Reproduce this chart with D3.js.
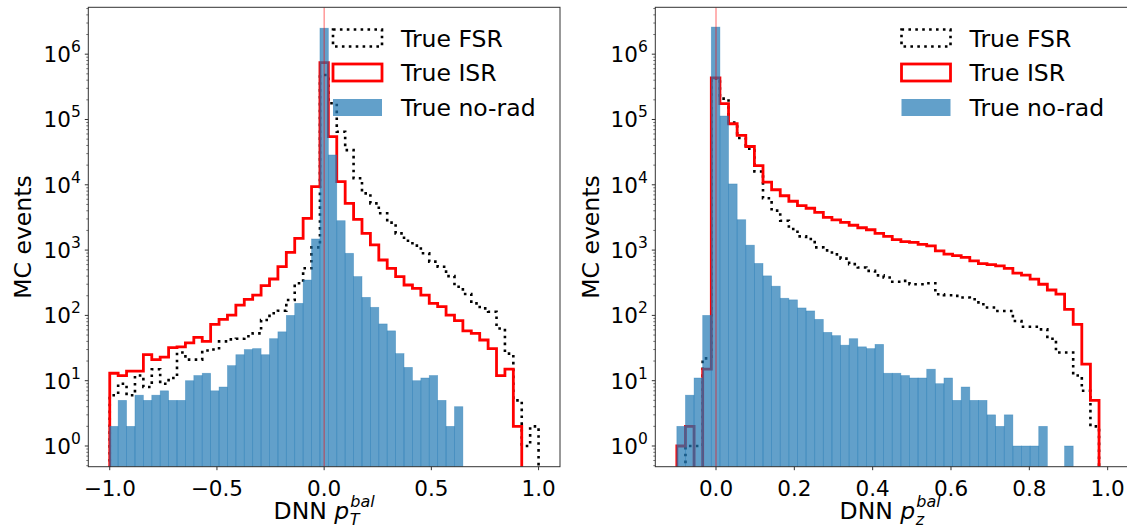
<!DOCTYPE html>
<html><head><meta charset="utf-8">
<script src="https://cdn.jsdelivr.net/npm/d3@7/dist/d3.min.js"></script>
<style>
body{margin:0;background:#fff}
svg{display:block}
text{font-family:"DejaVu Sans",sans-serif;fill:#000}
</style>
</head><body>
<svg id="c" width="1127" height="529"></svg>
<script>
// ---------- DATA ----------
// Left panel: 51 bins over [-1, 1]
const leftBinStart = -1, leftBinWidth = 2 / 51;
const leftNoRad = [2,5,2,6,5,6,7,5,5,10, 12,13,7,8,17,25,30,31,25,44, 56,100,153,348,1480,2500000,28600,2820,893,393,
  189,133,74,58,26,16,10,11,12,5, 2,4,0,0,0,0,0,0,0,0, 0];
const leftISR = [13,12,14,14,25,21,23,32,33,38, 46,40,73,87,101,144,176,205,285,361, 557,925,1515,3070,9350,741000,54500,11200,5200,2960,
  1800,1200,705,526,393,292,260,205,153,136, 101,83,58,53,42,31,12,15,2,0, 0];
const leftFSR = [6,9,6,12,8,15,9,11,27,21, 21,29,30,40,43,44,48,53,85,108, 118,172,310,526,1100,480000,177000,65000,34000,12600,
  7400,5200,3660,2630,1800,1390,1170,893,665,557, 400,275,213,153,128,114,63,26,5,1, 2];

// Right panel: 50 bins over [-0.1, 1.0]
const rightBinStart = -0.1, rightBinWidth = 0.022;
const rightNoRad = [2,6,11,100,2600000,113000,10300,2920,1190,625, 403,280,183,173,130,117,87,55,49,35,
  44,33,31,36,13,13,12,11,11,15, 9,11,5,8,5,5,3,2,3,1, 1,1,2,0,0,1,0,0,0,0];
const rightISR = [1,2,0,15,434000,175000,86000,57000,38600,19700, 11000,8400,6800,5600,4800,4370,3790,3180,2900,2660,
  2400,2200,2050,1800,1620,1450,1350,1310,1220,1160, 975,870,820,773,686,620,600,575,524,443,
  413,359,300,245,211,124,73,18,5,0];
const rightFSR = [0,1,1,22,424000,209000,90000,52000,35600,16000, 6230,4020,2820,2100,1620,1475,1100,990,860,740,
  610,540,480,410,380,327,338,300,300,310, 211,204,199,188,177,148,132,117,117,82,
  67,67,61,44,27,27,12,7,2,0];

const leftXTicks = [-1.0, -0.5, 0.0, 0.5, 1.0];
const leftXTickLabels = ["\u22121.0", "\u22120.5", "0.0", "0.5", "1.0"];
const rightXTicks = [0.0, 0.2, 0.4, 0.6, 0.8, 1.0];
const rightXTickLabels = ["0.0", "0.2", "0.4", "0.6", "0.8", "1.0"];
const yDecades = [0, 1, 2, 3, 4, 5, 6];
const legendLabels = ["True FSR", "True ISR", "True no-rad"];
const yLabelText = "MC events";
const xLabelSubs = ["T", "z"];

// ---------- DRAW ----------
const svg = d3.select("#c");
const TOP = 7.3, BOT = 466.7;
const yDomain = [Math.pow(10, -0.317), Math.pow(10, 6.718)];
const BLUE = "#1f77b4";

const panels = [
  {id: "L", x0: 88.3, x1: 560, dom: [-1.1, 1.1], bs: leftBinStart, bw: leftBinWidth,
   noRad: leftNoRad, isr: leftISR, fsr: leftFSR, ticks: leftXTicks, tickLabels: leftXTickLabels,
   legX: 333, sub: xLabelSubs[0], ylabX: 23},
  {id: "R", x0: 655.3, x1: 1129.2, dom: [-0.155, 1.055], bs: rightBinStart, bw: rightBinWidth,
   noRad: rightNoRad, isr: rightISR, fsr: rightFSR, ticks: rightXTicks, tickLabels: rightXTickLabels,
   legX: 901.5, sub: xLabelSubs[1], ylabX: 591}
];

const defs = svg.append("defs");

panels.forEach(p => {
  const x = d3.scaleLinear().domain(p.dom).range([p.x0, p.x1]);
  const y = d3.scaleLog().domain(yDomain).range([BOT, TOP]);
  defs.append("clipPath").attr("id", "clip" + p.id)
    .append("rect").attr("x", p.x0).attr("y", TOP).attr("width", p.x1 - p.x0).attr("height", BOT - TOP);

  const g = svg.append("g");
  const plot = g.append("g").attr("clip-path", `url(#clip${p.id})`);

  const yv = v => v > 0 ? y(v) : BOT + 50;
  const stepPts = vals => {
    const pts = [[x(p.bs), BOT + 50]];
    vals.forEach((v, i) => {
      const a = p.bs + i * p.bw, b = a + p.bw;
      pts.push([x(a), yv(v)], [x(b), yv(v)]);
    });
    pts.push([x(p.bs + vals.length * p.bw), BOT + 50]);
    return pts;
  };
  const line = d3.line();

  // FSR (dotted black)
  plot.append("path").attr("d", line(stepPts(p.fsr)))
    .attr("fill", "none").attr("stroke", "#000").attr("stroke-width", 2.6)
    .attr("stroke-dasharray", "2.6,4.3").attr("stroke-linejoin", "miter");
  // ISR (red)
  plot.append("path").attr("d", line(stepPts(p.isr)))
    .attr("fill", "none").attr("stroke", "#ff0000").attr("stroke-width", 2.8)
    .attr("stroke-linejoin", "miter");
  // no-rad bars
  plot.append("g").selectAll("rect").data(p.noRad.map((v, i) => ({v, i})).filter(d => d.v > 0))
    .join("rect")
    .attr("x", d => x(p.bs + d.i * p.bw))
    .attr("width", d => x(p.bs + (d.i + 1) * p.bw) - x(p.bs + d.i * p.bw))
    .attr("y", d => y(d.v))
    .attr("height", d => BOT + 5 - y(d.v))
    .attr("fill", BLUE).attr("fill-opacity", 0.7)
    .attr("stroke", BLUE).attr("stroke-opacity", 0.45).attr("stroke-width", 0.7);
  // vertical line at 0
  plot.append("line").attr("x1", x(0)).attr("x2", x(0)).attr("y1", TOP).attr("y2", BOT)
    .attr("stroke", "#ff0000").attr("stroke-opacity", 0.55).attr("stroke-width", 1.1);

  // spines
  g.append("rect").attr("x", p.x0).attr("y", TOP).attr("width", p.x1 - p.x0).attr("height", BOT - TOP)
    .attr("fill", "none").attr("stroke", "#333").attr("stroke-width", 1);

  // x ticks
  p.ticks.forEach((t, i) => {
    const xx = x(t);
    g.append("line").attr("x1", xx).attr("x2", xx).attr("y1", BOT).attr("y2", BOT + 3.5)
      .attr("stroke", "#333").attr("stroke-width", 1);
    g.append("text").attr("x", xx).attr("y", 495.5).attr("text-anchor", "middle")
      .attr("font-size", 21.5).text(p.tickLabels[i]);
  });

  // y ticks (major + minor)
  yDecades.forEach(d => {
    const yy = y(Math.pow(10, d));
    g.append("line").attr("x1", p.x0 - 3.5).attr("x2", p.x0).attr("y1", yy).attr("y2", yy)
      .attr("stroke", "#333").attr("stroke-width", 1);
    const t = g.append("text").attr("x", p.x0 - 7.5).attr("y", yy + 8).attr("text-anchor", "end")
      .attr("font-size", 21.5);
    t.append("tspan").text("10");
    t.append("tspan").attr("dy", -10).attr("font-size", 15.5).text(String(d));
  });
  for (let d = -1; d <= 6; d++) {
    for (let m = 2; m <= 9; m++) {
      const v = m * Math.pow(10, d);
      if (v < yDomain[0] || v > yDomain[1]) continue;
      const yy = y(v);
      g.append("line").attr("x1", p.x0 - 2).attr("x2", p.x0).attr("y1", yy).attr("y2", yy)
        .attr("stroke", "#333").attr("stroke-width", 0.7);
    }
  }

  // y label
  g.append("text").attr("transform", `translate(${p.ylabX + 8},${(TOP + BOT) / 2}) rotate(-90)`)
    .attr("text-anchor", "middle").attr("font-size", 23.5).text(yLabelText);

  // x label: DNN p_{sub}^{bal}
  const cx = (p.x0 + Math.min(p.x1, 1127 + 2)) / 2 - (p.id === "R" ? 2 : 0);
  const xl = g.append("g");
  const t1 = xl.append("text").attr("x", 0).attr("y", 519).attr("font-size", 23.5);
  t1.append("tspan").text("DNN ");
  t1.append("tspan").attr("font-style", "italic").text("p");
  const w1 = t1.node().getComputedTextLength();
  const sup = xl.append("text").attr("x", w1 + 1).attr("y", 506.5).attr("font-size", 16)
    .attr("font-style", "italic").text("bal");
  const sb = xl.append("text").attr("x", w1 + 0.5).attr("y", 524.5).attr("font-size", 16)
    .attr("font-style", "italic").text(p.sub);
  const wTot = w1 + 1 + Math.max(sup.node().getComputedTextLength(), sb.node().getComputedTextLength());
  xl.attr("transform", `translate(${cx - wTot / 2},0)`);

  // legend
  const rows = [38, 72.5, 107.5];
  const hw = 49, hh = 17;
  g.append("rect").attr("x", p.legX).attr("y", rows[0] - hh / 2).attr("width", hw).attr("height", hh)
    .attr("fill", "none").attr("stroke", "#000").attr("stroke-width", 2.6).attr("stroke-dasharray", "2.6,4.3");
  g.append("rect").attr("x", p.legX).attr("y", rows[1] - hh / 2).attr("width", hw).attr("height", hh)
    .attr("fill", "none").attr("stroke", "#ff0000").attr("stroke-width", 2.8);
  g.append("rect").attr("x", p.legX).attr("y", rows[2] - hh / 2).attr("width", hw).attr("height", hh)
    .attr("fill", BLUE).attr("fill-opacity", 0.7);
  legendLabels.forEach((lab, i) => {
    g.append("text").attr("x", p.legX + 68).attr("y", rows[i] + 8.5).attr("font-size", 23.5).text(lab);
  });
});
</script>
</body></html>
